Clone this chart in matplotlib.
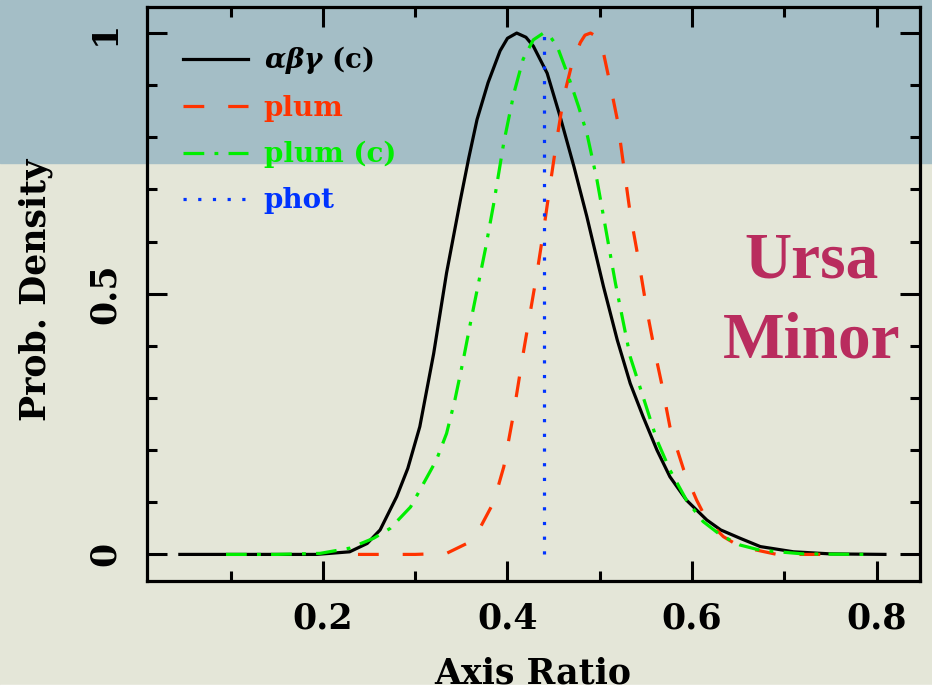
import matplotlib.pyplot as plt
from matplotlib.patches import Rectangle

# --- data ---
abg_x = [0.045, 0.15, 0.193, 0.229, 0.248, 0.262, 0.280, 0.292, 0.305, 0.320, 0.334,
         0.349, 0.358, 0.367, 0.379, 0.392, 0.400, 0.410, 0.420, 0.428, 0.443, 0.457,
         0.472, 0.486, 0.504, 0.519, 0.533, 0.547, 0.562, 0.576, 0.594, 0.616, 0.631,
         0.652, 0.674, 0.71, 0.75, 0.809]
abg_y = [0.0, 0.0, 0.0, 0.005, 0.021, 0.047, 0.111, 0.165, 0.245, 0.385, 0.540,
         0.680, 0.760, 0.834, 0.905, 0.966, 0.990, 1.0, 0.992, 0.975, 0.923, 0.840,
         0.744, 0.648, 0.514, 0.411, 0.328, 0.264, 0.2, 0.149, 0.104, 0.066, 0.047,
         0.031, 0.015, 0.005, 0.001, 0.0]

plumc_x = [0.095, 0.15, 0.197, 0.229, 0.255, 0.273, 0.295, 0.309, 0.323, 0.334, 0.343,
           0.352, 0.360, 0.368, 0.376, 0.385, 0.396, 0.407, 0.417, 0.428, 0.439,
           0.446, 0.454, 0.466, 0.477, 0.486, 0.497, 0.506, 0.517, 0.533, 0.547, 0.562,
           0.576, 0.594, 0.612, 0.631, 0.652, 0.674, 0.72, 0.786]
plumc_y = [0.0, 0.0, 0.002, 0.012, 0.031, 0.05, 0.091, 0.136, 0.181, 0.232, 0.296,
           0.372, 0.445, 0.515, 0.585, 0.672, 0.790, 0.885, 0.950, 0.987, 1.0,
           0.994, 0.974, 0.917, 0.859, 0.808, 0.718, 0.629, 0.520, 0.379, 0.302, 0.219,
           0.162, 0.104, 0.063, 0.037, 0.018, 0.008, 0.001, 0.0]

plum_x = [0.238, 0.30, 0.334, 0.356, 0.370, 0.385, 0.396, 0.406, 0.417, 0.426, 0.432,
          0.439, 0.446, 0.454, 0.461, 0.470, 0.479, 0.484, 0.490, 0.497, 0.504, 0.511,
          0.519, 0.526, 0.533, 0.542, 0.551, 0.560, 0.567, 0.576, 0.591, 0.605, 0.616,
          0.634, 0.652, 0.692, 0.745]
plum_y = [0.0, 0.0, 0.002, 0.021, 0.05, 0.10, 0.168, 0.264, 0.385, 0.478, 0.540,
          0.620, 0.706, 0.802, 0.878, 0.942, 0.982, 0.996, 1.0, 0.993, 0.962, 0.904,
          0.834, 0.744, 0.654, 0.565, 0.469, 0.386, 0.328, 0.245, 0.162, 0.104, 0.066,
          0.034, 0.015, 0.0, 0.0]

phot_x = [0.440, 0.440]
phot_y = [0.0, 1.0]

labels = [r'$\boldsymbol{\alpha\beta\gamma}$ (c)', 'plum', 'plum (c)', 'phot']
colors = ['black', '#ff3300', '#00ee00', '#0033ff']

plt.rcParams['font.family'] = 'DejaVu Serif'
plt.rcParams['font.weight'] = 'bold'
plt.rcParams['mathtext.fontset'] = 'dejavuserif'

fig = plt.figure(figsize=(9.32, 6.89), dpi=100)
W, H = 932, 689

# background: slide photo bands
fig.patches.append(Rectangle((0, 0), 1, 1, transform=fig.transFigure,
                             color='#e4e6d8', zorder=-10))
fig.patches.append(Rectangle((0, 1 - 163 / H), 1, 163 / H, transform=fig.transFigure,
                             color='#a4bec6', zorder=-9))
fig.patches.append(Rectangle((0, 0), 1, 4 / H, transform=fig.transFigure,
                             color='white', zorder=-8))

ax = fig.add_axes([147 / W, 1 - 581 / H, (920 - 147) / W, (581 - 7) / H])
ax.set_facecolor('none')

lw = 2.3
ax.plot(abg_x, abg_y, color=colors[0], lw=lw, label=labels[0])
ax.plot(plum_x, plum_y, color=colors[1], lw=lw, linestyle=(0, (6.5, 7.5)), label=labels[1])
ax.plot(plumc_x, plumc_y, color=colors[2], lw=lw, linestyle=(0, (6.5, 3.2, 1.2, 3.2)),
        label=labels[2])
ax.plot(phot_x, phot_y, color=colors[3], lw=lw, linestyle=(0, (1.0, 3.6)), label=labels[3])

ax.set_xlim(0.0094, 0.847)
ax.set_ylim(-0.051, 1.05)
ax.set_xticks([0.2, 0.4, 0.6, 0.8])
ax.set_xticks([0.1, 0.3, 0.5, 0.7], minor=True)
ax.set_xticklabels(['0.2', '0.4', '0.6', '0.8'])
ax.set_yticks([0, 0.5, 1])
ax.set_yticks([0.1, 0.2, 0.3, 0.4, 0.6, 0.7, 0.8, 0.9], minor=True)
ax.set_yticklabels(['0', '0.5', '1'], rotation=90, va='center')

ax.tick_params(which='both', direction='in', top=True, right=True, width=2.2)
ax.tick_params(which='major', length=14.5, labelsize=25)
ax.tick_params(which='minor', length=7)
ax.tick_params(axis='x', which='major', pad=15)
ax.tick_params(axis='y', which='major', pad=18)
for s in ax.spines.values():
    s.set_linewidth(2.3)

leg = ax.legend(loc='upper left', bbox_to_anchor=(0.0466, 0.935), frameon=False,
                fontsize=20, handlelength=2.35, handletextpad=0.55, labelspacing=0.68,
                borderpad=0, borderaxespad=0)
for t, c in zip(leg.get_texts(), colors):
    t.set_color(c)

fig.text(36 / W, 1 - 290 / H, 'Prob. Density', rotation=90, ha='center', va='center',
         fontsize=25)
fig.text(533 / W, 1 - 683 / H, 'Axis Ratio', ha='center', va='baseline', fontsize=25)

fig.text(812 / W, 1 - 277 / H, 'Ursa', ha='center', va='baseline', color='#b92c5e',
         family='Liberation Serif', fontsize=47, weight='bold')
fig.text(812 / W, 1 - 358 / H, 'Minor', ha='center', va='baseline', color='#b92c5e',
         family='Liberation Serif', fontsize=47, weight='bold')

fig.savefig('out.png', dpi=100)
